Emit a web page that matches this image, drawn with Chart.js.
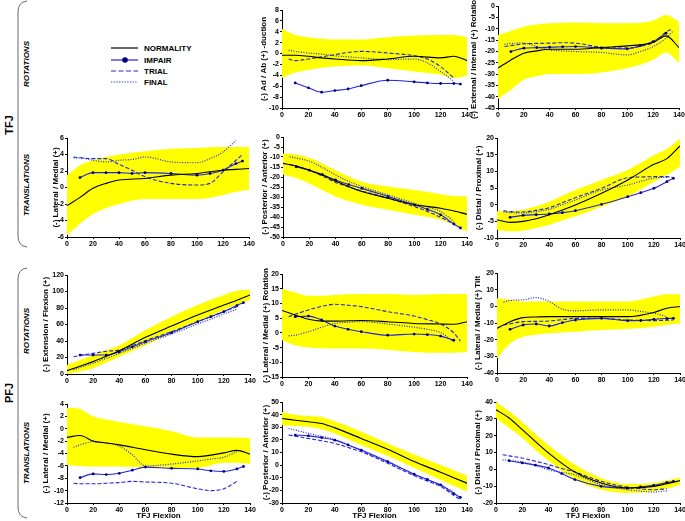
<!DOCTYPE html>
<html>
<head>
<meta charset="utf-8">
<script src="https://cdn.jsdelivr.net/npm/chart.js@4.4.1/dist/chart.umd.min.js"></script>
<style>
body { margin: 0; background: #fff; }
#fig { position: relative; width: 685px; height: 521px; overflow: hidden; font-family: 'Liberation Sans', Arial, sans-serif; }
#fig canvas { position: absolute; }
#deco { position: absolute; left: 0; top: 0; }
</style>
</head>
<body>
<div id="fig">
<svg id="deco" width="685" height="521" font-family="'Liberation Sans', Arial, sans-serif">
  <!-- group brackets -->
  <path d="M27 1 Q18 2 18 12 L18 236 Q18 246 27 247" fill="none" stroke="#444" stroke-width="0.8"/>
  <path d="M27 268 Q18 269 18 279 L18 507 Q18 517 27 518" fill="none" stroke="#444" stroke-width="0.8"/>
  <text transform="translate(12.5,125) rotate(-90)" text-anchor="middle" font-size="11" font-weight="bold">TFJ</text>
  <text transform="translate(12.5,393) rotate(-90)" text-anchor="middle" font-size="11" font-weight="bold">PFJ</text>
  <text transform="translate(28.5,64) rotate(-90)" text-anchor="middle" font-size="8" font-weight="bold" font-style="italic">ROTATIONS</text>
  <text transform="translate(28.5,185) rotate(-90)" text-anchor="middle" font-size="8" font-weight="bold" font-style="italic">TRANSLATIONS</text>
  <text transform="translate(28.5,331) rotate(-90)" text-anchor="middle" font-size="8" font-weight="bold" font-style="italic">ROTATIONS</text>
  <text transform="translate(28.5,453) rotate(-90)" text-anchor="middle" font-size="8" font-weight="bold" font-style="italic">TRANSLATIONS</text>
  <!-- legend -->
  <line x1="111" y1="48" x2="138" y2="48" stroke="#000" stroke-width="1.2"/>
  <text x="144" y="51" font-size="8" font-weight="bold">NORMALITY</text>
  <line x1="111" y1="60" x2="138" y2="60" stroke="#2424e0" stroke-width="1.2"/>
  <circle cx="125" cy="60" r="2.8" fill="#000080"/>
  <text x="144" y="63" font-size="8" font-weight="bold">IMPAIR</text>
  <line x1="111" y1="71" x2="138" y2="71" stroke="#2424e0" stroke-width="1.2" stroke-dasharray="5,2.5"/>
  <text x="144" y="74" font-size="8" font-weight="bold">TRIAL</text>
  <line x1="111" y1="82" x2="138" y2="82" stroke="#2424e0" stroke-width="1.2" stroke-dasharray="1.2,1.5"/>
  <text x="144" y="85" font-size="8" font-weight="bold">FINAL</text>
</svg>
</div>
<script>
"use strict"

// x grids: normative band / mean, and subject curves
const XN = [0, 10, 20, 30, 40, 60, 80, 100, 120, 130, 140]
const XS = [5, 10, 20, 30, 40, 50, 60, 80, 100, 110, 120, 130, 135]

// TFJ ad/abduction
const adabNorm = [-0.3, -0.3, -0.5, -0.8, -1.0, -1.3, -1.0, -0.5, -0.8, -0.5, -1.3]
const adabUp = [4.5, 3.4, 3.0, 2.7, 2.6, 2.6, 3.0, 3.3, 3.4, 3.4, 3.0]
const adabLow = [-4.5, -3.5, -3.0, -2.6, -2.4, -2.2, -2.7, -3.3, -3.9, -4.5, -4.1]
const adabImpair = [null, -5.4, -6.3, -7.1, -6.8, -6.5, -5.9, -4.9, -5.2, -5.4, -5.5, -5.5, -5.6]
const adabTrial = [-1.0, -1.3, -1.0, -0.6, -0.2, 0.2, 0.4, 0.1, -0.4, -1.0, -2.4, -4.5, null]
const adabFinal = [0.6, 0.4, 0.1, -0.1, -0.4, -0.6, -0.8, -1.1, -1.0, -1.7, -3.3, -5.1, null]

// TFJ external/internal rotation
const extNorm = [-27.4, -23.8, -20.8, -19.8, -19.1, -19.1, -18.3, -17.6, -16.1, -13.2, -18.3]
const extUp = [-12.8, -11, -9.1, -8.2, -7.6, -7.3, -7.6, -7.6, -6.5, -4, -6.9]
const extLow = [-41, -37, -32.5, -31, -30, -30, -29.3, -27.4, -23.8, -20.5, -25.2]
const extImpair = [null, -20.1, -18.6, -18.4, -18.2, -18, -17.9, -18.6, -18.9, -17.5, -15.7, -12, null]
const extTrial = [-17.9, -17.5, -16.7, -16.5, -16.4, -16.2, -16.4, -18.2, -18.6, -17.8, -16.1, -11.5, -10]
const extFinal = [-16.9, -16.5, -16.4, -17.9, -19.4, -19.8, -20.1, -20.5, -21.6, -20.1, -17.9, -14.2, -11.3]

// TFJ lateral/medial translation
const tlmNorm = [-2.2, -1.2, -0.1, 0.5, 0.9, 1.1, 1.5, 1.7, 2.1, 2.2, 2.3]
const tlmUp = [1.5, 2.7, 3.3, 3.7, 4.0, 4.4, 4.7, 4.8, 4.9, 4.9, 4.9]
const tlmLow = [-5.8, -4.4, -3.2, -2.5, -2.0, -1.4, -1.4, -1.4, -0.9, -0.5, -0.3]
const tlmImpair = [null, 1.2, 1.8, 1.8, 1.8, 1.7, 1.8, 1.7, 1.5, 1.7, 2.1, 2.9, 3.2]
const tlmTrial = [3.7, 3.6, 3.5, 3.5, 2.8, 2.1, 1.3, 0.5, 0.3, 0.5, 1.9, 3.3, 4.0]
const tlmFinal = [3.6, 3.6, 3.3, 3.1, 3.3, 3.4, 3.7, 3.1, 3.0, 3.5, 4.3, 5.7, null]

// TFJ posterior/anterior translation
const tpaNorm = [-13.2, -14.5, -16.6, -19, -22, -27.3, -30.6, -33.9, -35.6, -37, -38.6]
const tpaUp = [-8.3, -8.8, -10.4, -13.2, -16.6, -22.4, -24.8, -26.5, -28.6, -29.5, -29.8]
const tpaLow = [-18.7, -20.5, -23.2, -26.5, -29.8, -33.9, -36.4, -38.9, -41.4, -43.9, -47.2]
const tpaImpair = [null, -14.9, -16.6, -18.8, -21.5, -23.8, -25.7, -29.8, -33.9, -36.2, -38.9, -43.5, -45.5]
const tpaTrial = [-13.7, -14.5, -16.6, -19.5, -22.7, -25, -27, -30.6, -34.8, -37.2, -40.2, -43.5, null]
const tpaFinal = [-9.8, -10.5, -12.1, -15.3, -19, -22.2, -24.8, -29, -33.1, -35, -37.3, -42.2, null]

// TFJ distal/proximal translation
const tdpNorm = [-4.5, -5.3, -5.0, -4.2, -3.0, -0.1, 3.4, 7.4, 12.1, 13.8, 17.6]
const tdpUp = [-2, -1.9, -1.5, -0.5, 0.9, 4.4, 7.4, 10.4, 14.8, 16.8, 19.8]
const tdpLow = [-7.5, -8, -7.8, -7, -6, -3.5, -0.6, 2.4, 6.9, 8.9, 11.4]
const tdpImpair = [null, -3.8, -3.2, -3.0, -2.8, -2.4, -1.8, 0.1, 2.4, 3.6, 4.9, 6.9, 7.9]
const tdpTrial = [-1.8, -2.1, -2.2, -1.7, -0.9, 0.6, 2.1, 4.9, 8.1, 8.3, 8.4, 8.4, 8.1]
const tdpFinal = [-2.2, -2.4, -2.5, -2.1, -1.4, 0, 1.4, 4.4, 5.9, 7, 8.0, 8.2, null]

// PFJ extension/flexion
const flxNorm = [4, 9.5, 15, 21.5, 28.3, 44.4, 58.2, 71.5, 83.6, 89.5, 95.8]
const flxUp = [10.9, 17, 23, 29, 35, 53, 69.5, 83.6, 95.8, 101, 102]
const flxLow = [0, 3, 6.9, 14, 21, 35, 49.3, 63.4, 77.6, 84, 89.7]
const flxImpair = [null, 23, 23, 23, 27, 33, 39.2, 50.1, 63.4, 69.5, 75.6, 83, 86.5]
const flxTrial = [21, 22.5, 25, 27.5, 29, 34.5, 40.4, 51.3, 63.4, 69.5, 75.6, 81.6, null]
const flxFinal = [5, 8, 13, 19, 25, 31, 37.2, 48.5, 60.6, 66.5, 72.7, 78.4, null]

// PFJ lateral/medial rotation
const rotNorm = [7.6, 6.1, 4.6, 4.0, 4.0, 4.2, 3.8, 3.2, 3.0, 2.9, 3.8]
const rotUp = [14.9, 13.7, 12.6, 12.6, 12.9, 13.2, 13.2, 12.9, 13.2, 13.2, 13.2]
const rotLow = [-2.5, -4.2, -5, -5.2, -5.3, -5.3, -5.7, -6.5, -6.8, -6.8, -6.5]
const rotImpair = [null, 5.5, 5.7, 4.4, 2.3, 1.2, 0.4, -0.8, -0.4, -0.6, -1.1, -2.5, null]
const rotTrial = [5.5, 6.3, 7.8, 9.0, 9.7, 9.4, 8.9, 7.2, 5.7, 4.5, 3.0, 0, -2.8]
const rotFinal = [-1.0, -0.8, 0.4, 1.9, 3.2, 3.6, 3.8, 3.0, 1.9, 1.2, 0.1, -3.0, null]

// PFJ lateral/medial tilt
const tiltNorm = [-13.2, -9.2, -6.8, -6.4, -6.2, -6.2, -6.2, -6.2, -3.7, -1.1, -0.1]
const tiltUp = [4.9, 3.9, 2.9, 2.9, 2.9, 2.9, 2.9, 2.9, 5.9, 7.3, 7.3]
const tiltLow = [-31.3, -22.3, -18.2, -17, -16.2, -15.2, -14.2, -13.6, -12.2, -11.2, -10.2]
const tiltImpair = [null, -13.8, -11.2, -10.6, -11.8, -9.8, -8.2, -7.2, -8.6, -8.5, -7.8, -7.3, -7.2]
const tiltTrial = [-11.2, -10.5, -9.2, -9, -8.8, -8, -7.2, -7.2, -8.2, -8.4, -8.6, -8.3, -8.2]
const tiltFinal = [2.5, 3.5, 3.9, 5.3, 2.9, -1.7, -2.7, -2.1, -2.1, -3.1, -4.1, -6.2, null]

// PFJ lateral/medial translation
const plmNorm = [-1.4, -1.1, -2.0, -2.3, -2.6, -3.4, -4.1, -4.5, -3.9, -3.5, -4.1]
const plmUp = [3.4, 3.2, 2.0, 1.5, 1.1, 0.4, -0.4, -1.4, -1.4, -1.4, -1.5]
const plmLow = [-5.9, -6.0, -6.1, -6.1, -6.1, -6.2, -6.3, -6.3, -5.5, -5.5, -5.7]
const plmImpair = [null, -7.9, -7.3, -7.4, -7.2, -6.7, -6.2, -6.4, -6.5, -6.8, -6.9, -6.5, -6.1]
const plmTrial = [-8.8, -8.9, -8.9, -8.8, -8.7, -8.5, -8.6, -8.8, -9.7, -10, -9.7, -8.5, null]
const plmFinal = [-3.0, -2.6, -2.1, -2.3, -2.8, -4.2, -6.0, -5.7, -5.2, -4.9, -4.6, -3.7, null]

// PFJ posterior/anterior translation
const ppaNorm = [36.9, 35.6, 34.3, 32.9, 29.5, 21.1, 12.5, 2.8, -5.6, -10, -14.3]
const ppaUp = [42.1, 40, 39, 38.2, 34.8, 26.4, 17.2, 8.5, 0.1, -4, -8.3]
const ppaLow = [31.6, 31, 30.3, 28.5, 25.1, 15.9, 7.2, -2, -11.7, -16.3, -20.9]
const ppaImpair = [null, 23.8, 23.2, 21.8, 19.8, 16, 11.9, 2.8, -7.2, -11.4, -15.6, -22.5, -25.6]
const ppaTrial = [23.8, 23, 21.1, 19.3, 17.2, 14, 10.6, 1.4, -8.3, -12.6, -16.9, -24, -27.4]
const ppaFinal = [29, 27.8, 25.1, 22.8, 20.3, 16, 11.4, 2.2, -7.2, -11.6, -16.1, -20.9, null]

// PFJ distal/proximal translation
const pdpNorm = [35.4, 30.5, 23.6, 16.5, 9.7, -1.6, -8.1, -11.1, -10.1, -8.5, -6.7]
const pdpUp = [40, 34.5, 28.1, 21, 14.3, 2.8, -5.1, -8.7, -8.1, -6.5, -4.8]
const pdpLow = [30.5, 24.5, 18.6, 11.5, 5.1, -6.1, -12.1, -14, -13, -11.5, -9.1]
const pdpImpair = [null, 5.1, 3.8, 2.5, 0.8, -2.5, -6.1, -10.1, -11.1, -10.5, -9.5, -7.8, -7.1]
const pdpTrial = [8.7, 8, 6.7, 4.8, 2.8, 0.5, -1.6, -7.1, -10.7, -11.6, -12.1, -11.5, null]
const pdpFinal = [5.7, 5.2, 4.4, 2.3, -0.2, -1.8, -3.2, -9.1, -12.1, -13, -13.5, -12.7, null]

const BLUE = '#2424e0'
const FONT = "'Liberation Sans', Arial, sans-serif"

// plot: [left, top, right, bottom] of the axes box, tx: centre of the y title
const panels = [
    { plot: [282, 10, 467, 108], tx: 263.5, y: [-10, 8, 2], title: '(-) Ad / Ab (+) -duction',
      s: [adabUp, adabLow, adabNorm, adabImpair, adabTrial, adabFinal] },
    { plot: [498, 6, 679, 108], tx: 473.5, y: [-45, 0, 5], title: '(-) External / Internal (+) Rotation',
      s: [extUp, extLow, extNorm, extImpair, extTrial, extFinal] },
    { plot: [67, 138, 249, 237], tx: 55.5, y: [-6, 6, 2], title: '(-) Lateral / Medial (+)',
      s: [tlmUp, tlmLow, tlmNorm, tlmImpair, tlmTrial, tlmFinal] },
    { plot: [283, 137, 467, 237], tx: 265, y: [-50, 0, 5], title: '(-) Posterior / Anterior (+)',
      s: [tpaUp, tpaLow, tpaNorm, tpaImpair, tpaTrial, tpaFinal] },
    { plot: [497, 138, 680, 238], tx: 478.5, y: [-10, 20, 5], title: '(-) Distal / Proximal (+)',
      s: [tdpUp, tdpLow, tdpNorm, tdpImpair, tdpTrial, tdpFinal] },
    { plot: [67, 275, 250, 374], tx: 45.5, y: [0, 120, 20], title: '(-) Extension / Flexion (+)',
      s: [flxUp, flxLow, flxNorm, flxImpair, flxTrial, flxFinal] },
    { plot: [282, 274, 467, 377], tx: 266, y: [-15, 20, 5], title: '(-) Lateral / Medial (+) Rotation',
      s: [rotUp, rotLow, rotNorm, rotImpair, rotTrial, rotFinal] },
    { plot: [497, 273, 680, 373], tx: 478, y: [-40, 20, 10], title: '(-) Lateral / Medial (+) Tilt',
      s: [tiltUp, tiltLow, tiltNorm, tiltImpair, tiltTrial, tiltFinal] },
    { plot: [67, 404, 250, 503], tx: 46, y: [-12, 4, 2], title: '(-) Lateral / Medial (+)', xTitle: true,
      s: [plmUp, plmLow, plmNorm, plmImpair, plmTrial, plmFinal] },
    { plot: [282, 402, 467, 503], tx: 266, y: [-30, 50, 10], title: '(-) Posterior / Anterior (+)', xTitle: true,
      s: [ppaUp, ppaLow, ppaNorm, ppaImpair, ppaTrial, ppaFinal] },
    { plot: [496, 402, 680, 503], tx: 478, y: [-20, 40, 10], title: '(-) Distal / Proximal (+)', xTitle: true,
      s: [pdpUp, pdpLow, pdpNorm, pdpImpair, pdpTrial, pdpFinal] }
]

function pts(xs, ys) {
    return xs.map((x, i) => ({ x: x, y: ys[i] })).filter(p => p.y !== null)
}

function line(data, color, extra) {
    return Object.assign({
        data: data,
        borderColor: color,
        borderWidth: 1.1,
        pointRadius: 0,
        fill: false,
        cubicInterpolationMode: 'monotone'
    }, extra || {})
}

function drawPanel(p) {
    const lh = 8 * 1.2
    const cl = Math.round(p.tx - lh / 2)
    const ct = p.plot[1] - 8
    const cr = p.plot[2] + 8
    const cb = p.xTitle ? 521 : p.plot[3] + 12
    const canvas = document.createElement('canvas')
    canvas.width = cr - cl
    canvas.height = cb - ct
    canvas.style.left = cl + 'px'
    canvas.style.top = ct + 'px'
    document.getElementById('fig').appendChild(canvas)

    const tickFont = { family: FONT, size: 7, weight: 'bold' }
    const titleFont = { family: FONT, size: 8, weight: 'bold' }

    new Chart(canvas, {
        type: 'line',
        data: {
            datasets: [
                line(pts(XN, p.s[0]), 'rgba(0,0,0,0)', { borderWidth: 0, fill: '+1', backgroundColor: '#ffff00' }),
                line(pts(XN, p.s[1]), 'rgba(0,0,0,0)', { borderWidth: 0 }),
                line(pts(XN, p.s[2]), '#000000'),
                line(pts(XS, p.s[3]), BLUE, { pointRadius: 1.4, pointBorderWidth: 0, pointBackgroundColor: '#000080' }),
                line(pts(XS, p.s[4]), BLUE, { borderDash: [4, 2] }),
                line(pts(XS, p.s[5]), BLUE, { borderDash: [1, 1.5], borderWidth: 1.2 })
            ]
        },
        options: {
            responsive: false,
            animation: false,
            events: [],
            layout: { padding: { top: 8, right: 8, left: 0, bottom: 0 } },
            plugins: {
                legend: { display: false },
                tooltip: { enabled: false },
                filler: { drawTime: 'beforeDatasetsDraw' }
            },
            scales: {
                x: {
                    type: 'linear', min: 0, max: 140,
                    ticks: { stepSize: 20, autoSkip: false, maxRotation: 0, padding: 1, font: tickFont, color: '#000' },
                    grid: { drawOnChartArea: false, tickLength: 2, color: '#000' },
                    border: { color: '#000', width: 1 },
                    title: { display: !!p.xTitle, text: 'TFJ Flexion', font: titleFont, color: '#000', padding: 0 },
                    afterFit: s => { s.height = cb - p.plot[3] }
                },
                y: {
                    type: 'linear', min: p.y[0], max: p.y[1],
                    ticks: { stepSize: p.y[2], autoSkip: false, padding: 1, font: tickFont, color: '#000' },
                    grid: { drawOnChartArea: false, tickLength: 2, color: '#000' },
                    border: { color: '#000', width: 1 },
                    title: { display: true, text: p.title, font: titleFont, color: '#000', padding: 0 },
                    afterFit: s => { s.width = p.plot[0] - cl }
                }
            }
        }
    })
}

panels.forEach(drawPanel)
</script>
</body>
</html>
